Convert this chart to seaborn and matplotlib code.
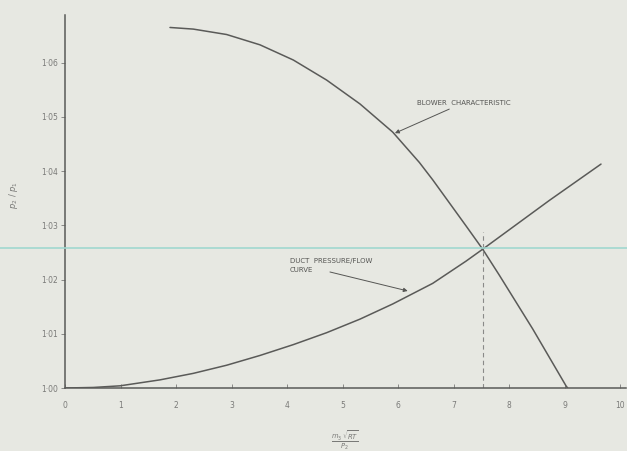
import matplotlib
matplotlib.use("Agg")
import matplotlib.pyplot as plt
import seaborn as sns
import pandas as pd
from matplotlib.lines import Line2D

# ---- data ----
blower_x = [1.89, 2.31, 2.91, 3.51, 4.11, 4.71, 5.31, 5.90, 6.38, 6.62,
            7.22, 7.52, 7.82, 8.42, 9.02, 9.05]
blower_y = [1.0665, 1.0662, 1.0652, 1.0633, 1.0605, 1.0568, 1.0524, 1.0472, 1.0416, 1.0384,
            1.0299, 1.0256, 1.0208, 1.0109, 1.0004, 1.0000]
duct_x = [0.0, 0.51, 0.99, 1.71, 2.31, 2.91, 3.51, 4.11, 4.71, 5.31,
          5.90, 6.62, 7.22, 7.52, 8.12, 8.72, 9.65]
duct_y = [1.0000, 1.0001, 1.0004, 1.0015, 1.0027, 1.0042, 1.0060, 1.0080, 1.0102, 1.0127,
          1.0155, 1.0193, 1.0234, 1.0256, 1.0301, 1.0346, 1.0413]
x_ticks = [0, 1, 2, 3, 4, 5, 6, 7, 8, 9, 10]
x_tick_labels = ["0", "1", "2", "3", "4", "5", "6", "7", "8", "9", "10"]
y_ticks = [1.00, 1.01, 1.02, 1.03, 1.04, 1.05, 1.06]
y_tick_labels = ["1·00", "1·01", "1·02", "1·03", "1·04", "1·05", "1·06"]
operating_x = 7.52
operating_y = 1.0256

sns.set_theme(style="ticks")
plt.rcParams['font.family'] = ['DejaVu Sans']

bg = "#e7e8e2"
line_c = "#5a5a58"
text_c = "#7a7a78"

fig = plt.figure(figsize=(6.27, 4.51), dpi=100, facecolor=bg)
ax = fig.add_axes([65/627, 63/451, 561/627, 373/451])
ax.set_facecolor(bg)

blower = pd.DataFrame({"x": blower_x, "y": blower_y})
duct = pd.DataFrame({"x": duct_x, "y": duct_y})
sns.lineplot(data=blower, x="x", y="y", ax=ax, color=line_c, lw=1.1, sort=False, estimator=None)
sns.lineplot(data=duct, x="x", y="y", ax=ax, color=line_c, lw=1.1, sort=False, estimator=None)

ax.plot([operating_x, operating_x], [1.0, operating_y + 0.0032], ls=(0, (4, 3)), color="#8a8a88", lw=0.8)

ax.set_xlim(0, 10.1)
ax.set_ylim(1.0, 1.0688)
ax.set_xticks(x_ticks)
ax.set_xticklabels(x_tick_labels)
ax.set_yticks(y_ticks)
ax.set_yticklabels(y_tick_labels)
ax.tick_params(axis="both", colors=text_c, labelsize=5.5, length=3, width=0.6)
ax.tick_params(axis="x", direction="in", pad=9)
ax.tick_params(axis="y", direction="out", pad=2)
for s in ["top", "right"]:
    ax.spines[s].set_visible(False)
for s in ["left", "bottom"]:
    ax.spines[s].set_color(line_c)
    ax.spines[s].set_linewidth(1.1)
ax.set_xlabel("")
ax.set_ylabel("")

# annotations
ax.annotate("BLOWER  CHARACTERISTIC", xy=(5.94, 1.0470), xytext=(6.33, 1.0526),
            fontsize=5, color="#555553", ha="left", va="center",
            arrowprops=dict(arrowstyle="-|>", color="#555553", lw=0.7,
                            shrinkA=0, shrinkB=0, mutation_scale=6))
ax.text(4.05, 1.0240, "DUCT  PRESSURE/FLOW\nCURVE", fontsize=5, color="#555553",
        ha="left", va="top", linespacing=1.6)
ax.annotate("", xy=(6.17, 1.0179), xytext=(4.77, 1.0214),
            arrowprops=dict(arrowstyle="-|>", color="#555553", lw=0.7,
                            shrinkA=0, shrinkB=0, mutation_scale=6))

# axis labels
fig.text(14/627, 1 - 195/451, r"$p_2\ /\ p_1$", rotation=90, fontsize=6,
         color=text_c, ha="center", va="center")
fig.text(345/627, 1 - 440/451, r"$\frac{m_3\,\sqrt{RT}}{P_2}$", fontsize=7,
         color=text_c, ha="center", va="center")

# scan artefact: faint cyan horizontal line
fig.add_artist(Line2D([0, 1], [1 - 248/451, 1 - 248/451], transform=fig.transFigure,
                      color="#9fd8cf", lw=1.3, alpha=0.9))

fig.savefig("out.png", dpi=100, facecolor=bg)
